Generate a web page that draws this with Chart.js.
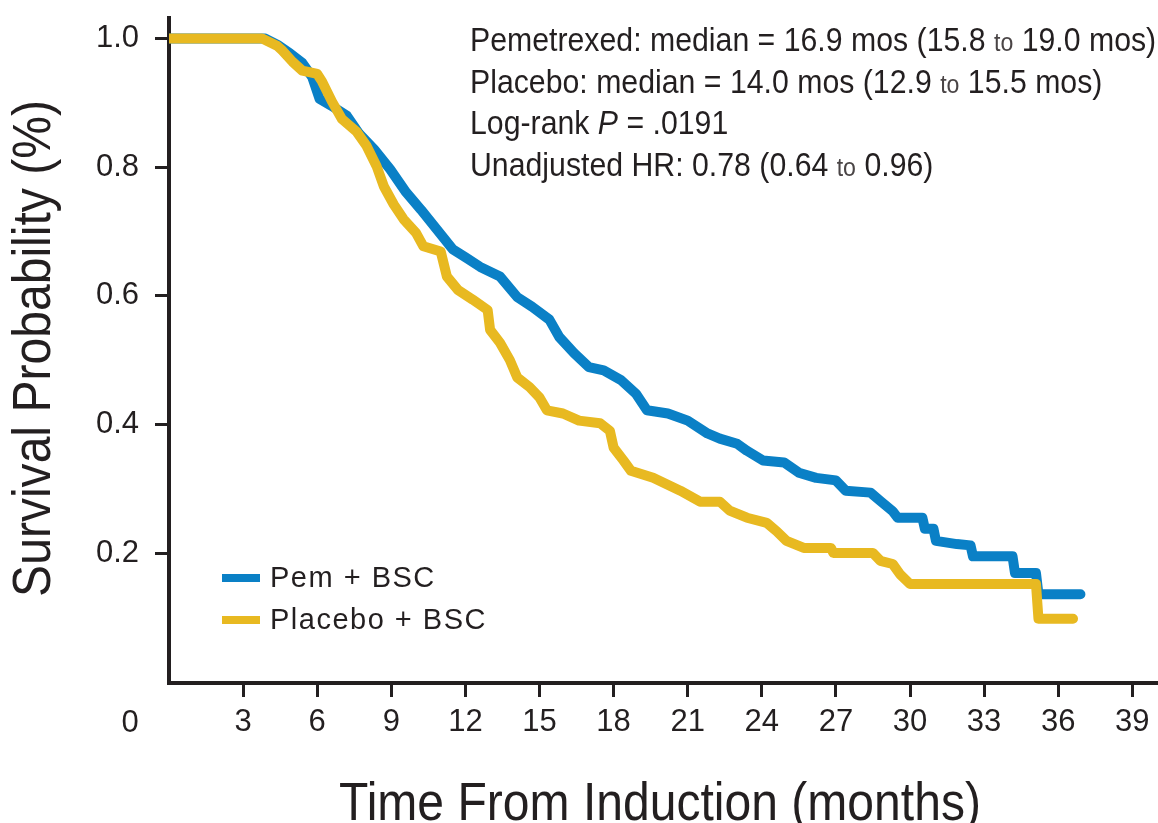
<!DOCTYPE html>
<html>
<head>
<meta charset="utf-8">
<title>Survival from induction</title>
<script src="https://cdn.jsdelivr.net/npm/chart.js@4.4.1/dist/chart.umd.min.js"></script>
<style>
  html, body { margin: 0; padding: 0; background: #fff; }
  #wrap { width: 1158px; height: 823px; position: relative; }
</style>
</head>
<body>
<div id="wrap"><canvas id="km"></canvas></div>
<script>
// tick values
const xTicks = [3, 6, 9, 12, 15, 18, 21, 24, 27, 30, 33, 36, 39];
const yTicks = [0.2, 0.4, 0.6, 0.8, 1.0];

// Pem + BSC (months, survival)
const pemTime = [0, 3.9, 4.4, 4.9, 5.4, 5.8, 6.1, 6.6, 7.2, 7.7, 8.3, 8.95, 9.6, 10.2, 10.85, 11.5, 12.0, 12.6, 13.4, 14.1,
  14.7, 15.4, 15.8, 16.4, 17.0, 17.6, 18.3, 18.9, 19.35, 20.2, 21.0, 21.8, 22.3, 23.0, 23.4, 24.05, 24.9, 25.5, 26.2, 27.0,
  27.4, 28.4, 28.8, 29.3, 29.5, 30.5, 30.6, 30.95, 31.05, 31.9, 32.45, 32.55, 34.15, 34.25, 35.1, 35.2, 36.9];
const pemSurv = [1.0, 1.0, 0.99, 0.977, 0.962, 0.94, 0.906, 0.895, 0.88, 0.852, 0.828, 0.797, 0.761, 0.734, 0.703, 0.672, 0.66, 0.645, 0.63, 0.598,
  0.583, 0.563, 0.536, 0.511, 0.489, 0.484, 0.469, 0.448, 0.422, 0.417, 0.406, 0.386, 0.378, 0.37, 0.359, 0.344, 0.341, 0.325, 0.317, 0.313,
  0.297, 0.294, 0.281, 0.265, 0.255, 0.255, 0.238, 0.238, 0.219, 0.214, 0.212, 0.195, 0.195, 0.169, 0.169, 0.136, 0.136];

// Placebo + BSC
const pboTime = [0, 3.77, 4.37, 4.6, 5.0, 5.4, 6.0, 6.2, 6.6, 7.0, 7.6, 8.0, 8.4, 8.7, 9.1, 9.5, 10.0, 10.3, 11.0, 11.25,
  11.7, 12.3, 12.9, 13.0, 13.4, 13.8, 14.1, 14.6, 15.0, 15.3, 15.95, 16.6, 17.45, 17.85, 18.0, 18.4, 18.7, 19.6, 20.7, 21.5,
  22.3, 22.7, 23.4, 24.2, 24.6, 25.0, 25.7, 26.8, 26.9, 28.5, 28.8, 29.3, 29.6, 30.0, 35.1, 35.2, 36.6];
const pboSurv = [1.0, 1.0, 0.989, 0.981, 0.964, 0.95, 0.945, 0.933, 0.902, 0.875, 0.855, 0.833, 0.802, 0.77, 0.742, 0.719, 0.698, 0.677, 0.669, 0.63,
  0.609, 0.594, 0.578, 0.547, 0.527, 0.5, 0.473, 0.458, 0.442, 0.422, 0.417, 0.406, 0.402, 0.39, 0.364, 0.344, 0.328, 0.317, 0.297, 0.28,
  0.28, 0.266, 0.255, 0.247, 0.234, 0.219, 0.208, 0.208, 0.2, 0.2, 0.188, 0.183, 0.167, 0.152, 0.152, 0.098, 0.098];

const seriesNames = ['Pem + BSC', 'Placebo + BSC'];
const xTitle = 'Time From Induction (months)';
const yTitle = 'Survival Probability (%)';

// stats block, one array of runs per line ('s' = small "to", 'i' = italic)
const statLines = [
  [['Pemetrexed: median = 16.9 mos (15.8 '], ['to', 's'], [' 19.0 mos)']],
  [['Placebo: median = 14.0 mos (12.9 '], ['to', 's'], [' 15.5 mos)']],
  [['Log-rank '], ['P', 'i'], [' = .0191']],
  [['Unadjusted HR: 0.78 (0.64 '], ['to', 's'], [' 0.96)']]
];

const INK = '#231f20';
const BLUE = '#0a80c6';
const GOLD = '#e8b921';
const SANS = '"Liberation Sans", Arial, sans-serif';
const SQUEEZE = 0.89; // the original type is a condensed face

const toPoints = (ts, ss) => ts.map((t, i) => ({ x: t, y: ss[i] }));

// condensed text: draw with a horizontal squeeze
function squeezed(ctx, text, x, y, rot) {
  ctx.save();
  ctx.translate(x, y);
  if (rot) ctx.rotate(rot);
  ctx.scale(SQUEEZE, 1);
  ctx.fillText(text, 0, 0);
  ctx.restore();
}

const overlay = {
  id: 'overlay',
  afterDraw(chart) {
    const { ctx, chartArea } = chart;
    ctx.save();
    ctx.fillStyle = INK;

    // the origin label sits left of the axis in the original
    ctx.font = '31px ' + SANS;
    ctx.textAlign = 'center';
    ctx.textBaseline = 'middle';
    ctx.fillText('0', chartArea.left - 39, 723);

    // axis titles
    ctx.font = '54px ' + SANS;
    ctx.textBaseline = 'alphabetic';
    squeezed(ctx, xTitle, (chartArea.left + chartArea.right) / 2 - 3, 820);
    squeezed(ctx, yTitle, 50, (chartArea.top + chartArea.bottom) / 2 - 2, -Math.PI / 2);

    // legend
    ctx.textAlign = 'left';
    ctx.textBaseline = 'middle';
    ctx.font = '29px ' + SANS;
    ctx.letterSpacing = '1.5px';
    [[seriesNames[0], BLUE, 578], [seriesNames[1], GOLD, 620]].forEach(([name, col, y]) => {
      ctx.fillStyle = col;
      ctx.fillRect(222, y - 4, 38, 8);
      ctx.fillStyle = INK;
      ctx.fillText(name, 270, y + 1);
    });
    ctx.letterSpacing = '0px';

    // stats
    ctx.textBaseline = 'alphabetic';
    statLines.forEach((runs, i) => {
      let x = 470;
      const y = 51 + i * 41.5;
      runs.forEach(([text, style]) => {
        if (style === 's') ctx.font = '26px ' + SANS;
        else if (style === 'i') ctx.font = 'italic 34px ' + SANS;
        else ctx.font = '34px ' + SANS;
        ctx.fillStyle = style === 's' ? '#4a4546' : INK;
        squeezed(ctx, text, x, y);
        x += ctx.measureText(text).width * SQUEEZE;
      });
    });
    ctx.restore();
  }
};

new Chart(document.getElementById('km'), {
  type: 'line',
  data: {
    datasets: [
      { label: seriesNames[1], data: toPoints(pboTime, pboSurv), borderColor: GOLD, backgroundColor: GOLD,
        borderWidth: 10, pointRadius: 0, tension: 0, borderJoinStyle: 'round', borderCapStyle: 'round' },
      { label: seriesNames[0], data: toPoints(pemTime, pemSurv), borderColor: BLUE, backgroundColor: BLUE,
        borderWidth: 10, pointRadius: 0, tension: 0, borderJoinStyle: 'round', borderCapStyle: 'round' }
    ]
  },
  options: {
    responsive: true,
    maintainAspectRatio: false,
    animation: false,
    layout: { padding: { top: 0, right: 1, left: 0, bottom: 0 } },
    plugins: { legend: { display: false }, tooltip: { enabled: false } },
    scales: {
      x: {
        type: 'linear', min: 0, max: 40,
        afterBuildTicks: s => { s.ticks = xTicks.map(v => ({ value: v })); },
        afterFit: s => { s.height = 140; },
        border: { display: true, color: INK, width: 4 },
        grid: { drawOnChartArea: false, tickLength: 14, tickWidth: 3, tickColor: INK },
        ticks: { color: INK, font: { family: SANS, size: 31 }, padding: 7, maxRotation: 0, autoSkip: false }
      },
      y: {
        min: -0.002, max: 1.032,
        afterBuildTicks: s => { s.ticks = yTicks.map(v => ({ value: v })); },
        afterFit: s => { s.width = 169; s.paddingTop = 18; s.paddingBottom = 0; },
        border: { display: true, color: INK, width: 4 },
        grid: { drawOnChartArea: false, tickLength: 14, tickWidth: 3, tickColor: INK },
        ticks: { color: INK, font: { family: SANS, size: 31 }, padding: 16, callback: v => v.toFixed(1) }
      }
    }
  },
  plugins: [overlay]
});
</script>
</body>
</html>
